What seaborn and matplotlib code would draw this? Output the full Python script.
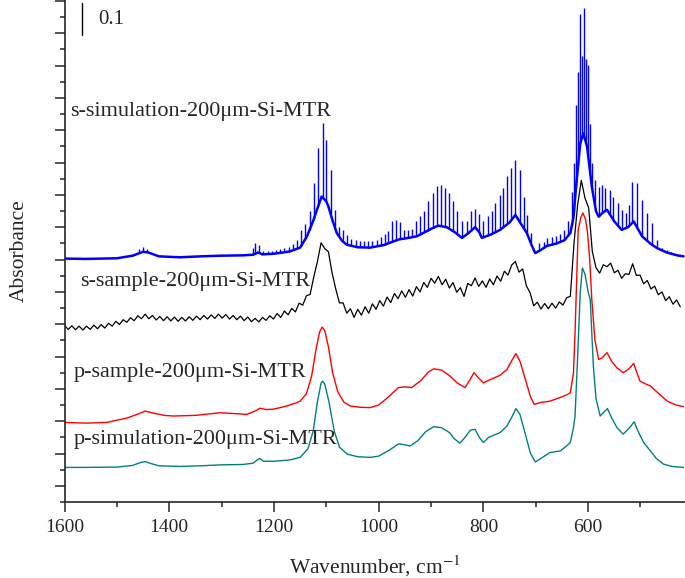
import matplotlib
matplotlib.use('Agg')
import matplotlib.pyplot as plt
import numpy as np
import pandas as pd
import seaborn as sns

# --- spectra (wavenumber cm-1, absorbance with offsets) ---

# p-simulation (teal)
teal_wn = [1600, 1560, 1500, 1470, 1455, 1446, 1437, 1420, 1380, 1340, 1300, 1260, 1240, 1232,
           1227, 1220, 1200, 1170, 1150, 1135, 1125, 1117, 1110, 1107, 1103, 1095, 1085, 1075,
           1060, 1040, 1016, 1000, 980, 962, 950, 940, 925, 910, 895, 880, 865, 855, 845, 835,
           825, 816, 808, 800, 790, 768, 755, 745, 738, 730, 720, 710, 701, 690, 673, 653, 640,
           634, 628, 625, 620, 615, 611, 606, 600, 596, 590, 585, 577, 570, 563, 555, 545, 533,
           522, 512, 505, 494, 481, 470, 456, 440, 418]
teal_abs = [.057, .057, .058, .063, .072, .075, .070, .062, .060, .062, .065, .066, .070, .080,
            .085, .076, .076, .080, .088, .115, .170, .260, .318, .324, .315, .260, .170, .120,
            .098, .090, .088, .092, .110, .130, .127, .123, .140, .168, .183, .180, .165, .145,
            .132, .150, .172, .175, .150, .134, .150, .165, .185, .215, .239, .220, .160, .100,
            .074, .085, .103, .108, .125, .134, .180, .216, .400, .600, .674, .655, .600, .576,
            .370, .270, .216, .228, .239, .210, .180, .160, .178, .198, .170, .134, .108, .085,
            .067, .060, .057]

# p-sample (red)
red_wn = [1600, 1558, 1520, 1480, 1460, 1446, 1430, 1410, 1392, 1350, 1303, 1280, 1252, 1235,
          1227, 1215, 1202, 1180, 1160, 1150, 1138, 1128, 1120, 1113, 1108, 1103, 1096, 1088,
          1078, 1066, 1054, 1035, 1016, 1000, 985, 962, 950, 937, 920, 905, 895, 880, 864, 850,
          835, 825, 818, 810, 800, 785, 768, 755, 745, 738, 730, 720, 710, 703, 690, 673, 654,
          640, 634, 628, 625, 619, 614, 610, 605, 601, 597, 593, 587, 580, 574, 564, 555, 545,
          533, 522, 513, 507, 501, 490, 481, 465, 449, 432, 418]
red_abs = [.196, .194, .196, .210, .222, .231, .225, .218, .216, .218, .226, .224, .221, .232,
           .240, .236, .237, .245, .255, .262, .285, .340, .420, .475, .491, .480, .430, .350,
           .290, .258, .247, .243, .242, .250, .270, .304, .306, .304, .325, .352, .362, .358,
           .340, .318, .304, .330, .350, .335, .319, .330, .342, .360, .390, .409, .385, .330,
           .275, .252, .258, .262, .273, .282, .288, .350, .474, .792, .830, .844, .825, .782,
           .700, .576, .450, .391, .395, .412, .385, .365, .350, .362, .379, .350, .324, .315,
           .309, .285, .262, .250, .245]

# s-sample (black), fringe zigzag vertices
black_wn = [1600, 1593, 1586, 1579, 1572, 1565, 1558, 1551, 1544, 1537, 1530, 1523, 1516, 1509,
            1502, 1495, 1488, 1481, 1474, 1467, 1460, 1453, 1446, 1439, 1432, 1425, 1418, 1411,
            1404, 1397, 1390, 1383, 1376, 1369, 1362, 1355, 1348, 1341, 1334, 1327, 1320, 1313,
            1306, 1299, 1292, 1285, 1278, 1271, 1264, 1257, 1250, 1243, 1236, 1229, 1222, 1215,
            1208, 1201, 1194, 1187, 1180, 1173, 1166, 1159, 1152, 1145, 1138, 1131, 1124, 1117,
            1110, 1103, 1096, 1089, 1082, 1075, 1068, 1061, 1054, 1047, 1040, 1033, 1026, 1019,
            1012, 1005, 998, 991, 984, 977, 970, 963, 956, 949, 942, 935, 928, 921, 914, 907,
            900, 893, 886, 879, 872, 865, 858, 851, 844, 837, 830, 823, 816, 809, 802, 795,
            788, 781, 774, 767, 760, 753, 746, 739, 732, 725, 718, 711, 704, 697, 690, 683,
            676, 669, 662, 655, 648, 641, 634, 627, 620, 613, 606, 599, 592, 585, 578, 571,
            564, 557, 550, 543, 536, 529, 522, 515, 508, 501, 494, 487, 480, 473, 466, 459,
            452, 445, 438, 431, 424]
black_abs = [.496, .484, .495, .483, .494, .482, .494, .484, .497, .486, .499, .488, .503, .494,
             .509, .499, .514, .506, .520, .511, .526, .517, .531, .517, .527, .513, .524, .511,
             .523, .510, .522, .509, .521, .510, .523, .512, .525, .514, .527, .516, .529, .518,
             .531, .519, .530, .516, .527, .514, .525, .511, .522, .508, .518, .507, .521, .512,
             .526, .516, .533, .521, .541, .529, .549, .538, .565, .559, .588, .592, .646, .694,
             .752, .734, .724, .659, .609, .566, .566, .534, .548, .521, .546, .528, .554, .534,
             .563, .546, .573, .556, .584, .567, .595, .579, .603, .583, .607, .587, .616, .600,
             .629, .614, .642, .627, .648, .622, .639, .612, .629, .599, .613, .586, .626, .619,
             .643, .617, .634, .614, .640, .622, .649, .633, .664, .652, .683, .694, .661, .671,
             .619, .598, .557, .568, .547, .564, .548, .565, .550, .569, .559, .582, .586, .750,
             .870, .945, .890, .860, .725, .675, .658, .684, .678, .689, .659, .667, .642, .656,
             .654, .687, .651, .652, .625, .635, .609, .618, .591, .600, .573, .585, .562, .575,
             .554]

# s-simulation (blue): smooth base + fringe spikes
blue_wn = [1600, 1560, 1500, 1470, 1450, 1440, 1420, 1380, 1340, 1300, 1260, 1240, 1230, 1222,
           1200, 1170, 1150, 1137, 1125, 1118, 1109, 1100, 1096, 1088, 1080, 1070, 1061, 1040,
           1016, 990, 962, 940, 927, 900, 886, 870, 855, 841, 830, 816, 808, 803, 785, 768,
           750, 739, 730, 717, 708, 701, 690, 679, 660, 645, 634, 628, 623, 615, 609, 602,
           593, 585, 580, 572, 564, 550, 536, 524, 513, 505, 497, 480, 469, 450, 430, 418]
blue_abs = [.703, .702, .704, .712, .724, .722, .710, .707, .710, .712, .713, .715, .722, .716,
            .718, .725, .737, .772, .820, .854, .895, .880, .864, .820, .782, .758, .746, .738,
            .737, .745, .762, .768, .772, .795, .805, .800, .785, .767, .780, .800, .785, .767,
            .778, .792, .815, .838, .815, .782, .745, .720, .730, .742, .750, .760, .782, .830,
            .926, 1.06, 1.09, 1.049, .926, .850, .833, .845, .854, .818, .792, .800, .818, .795,
            .772, .748, .736, .722, .713, .710]
spike_wn = [1458, 1450, 1442, 1240, 1236, 1228, 1220, 1212, 1204, 1196, 1188, 1180, 1172, 1164,
            1156, 1148, 1140, 1132, 1124, 1116, 1107, 1100, 1092, 1084, 1076, 1068, 1060, 1052,
            1044, 1036, 1028, 1020, 1012, 1004, 996, 988, 982, 975, 967, 959, 952, 944, 937,
            929, 921, 913, 906, 897, 889, 881, 873, 866, 858, 850, 841, 832, 824, 816, 808,
            800, 792, 784, 778, 769, 762, 755, 747, 739, 731, 723, 717, 710, 693, 685, 678,
            669, 662, 653, 646, 638, 631, 627, 623, 619, 615, 611, 608, 604, 600, 596, 592,
            587, 580, 573, 567, 559, 552, 543, 536, 527, 521, 516, 506, 497, 488, 478, 469,
            459, 450, 442]
spike_abs = [.733, .738, .732, .735, .752, .745, .728, .726, .728, .730, .733, .736, .740, .748,
             .762, .790, .810, .850, .936, 1.044, 1.121, 1.07, .977, .854, .802, .790, .775, .765,
             .760, .757, .756, .756, .758, .762, .770, .780, .787, .818, .821, .815, .790, .790,
             .795, .820, .834, .849, .880, .907, .928, .931, .921, .907, .880, .850, .820, .820,
             .850, .855, .840, .820, .834, .850, .876, .900, .921, .957, .983, 1.008, .977, .895,
             .838, .782, .751, .755, .767, .770, .772, .780, .790, .820, .910, 1.00, 1.178, 1.28,
             1.461, 1.33, 1.477, 1.32, 1.302, 1.12, 1.00, .946, .926, .930, .921, .916, .895,
             .875, .854, .844, .870, .941, .936, .885, .844, .813, .761, .736, .730, .722]

curve_labels = ['s-simulation-200\u03bcm-Si-MTR', 's-sample-200\u03bcm-Si-MTR',
                'p-sample-200\u03bcm-Si-MTR', 'p-simulation-200\u03bcm-Si-MTR']
label_x = [1589, 1570, 1583, 1583]
label_y = [1.157, 0.633, 0.350, 0.144]

sns.set_style('ticks')
plt.rcParams['font.family'] = ['Liberation Serif', 'DejaVu Serif']
plt.rcParams['mathtext.fontset'] = 'stix'

fig = plt.figure(figsize=(6.85, 5.78), dpi=100)
ax = fig.add_axes([0.0942, 0.1315, 0.9058, 0.8685])

sns.lineplot(x=teal_wn, y=teal_abs, color='#008080', lw=1.0, estimator=None, ax=ax)
sns.lineplot(x=red_wn, y=red_abs, color='#ff0000', lw=1.0, estimator=None, ax=ax)
sns.lineplot(x=black_wn, y=black_abs, color='black', lw=0.9, estimator=None, ax=ax)
sns.lineplot(x=blue_wn, y=blue_abs, color='#0000ff', lw=1.8, estimator=None, ax=ax)

# spikes rise from the blue base line
spike_base = np.interp(spike_wn, blue_wn[::-1], blue_abs[::-1])
ax.vlines(spike_wn, spike_base, spike_abs, color='#0000ff', lw=1.0)

for txt, lx, ly in zip(curve_labels, label_x, label_y):
    ax.text(lx, ly, txt, fontsize=16, va='center', ha='left')

# 0.1 scale bar
bar_x, bar_bottom, bar_len = 1566, 1.394, 0.1
ax.plot([bar_x, bar_x], [bar_bottom, bar_bottom + bar_len], color='black', lw=1.0)
ax.text(1536, bar_bottom + bar_len / 2, '0.1', fontsize=15, va='center', ha='left')

ax.set_xlim(1600, 415)
ax.set_ylim(-0.05, 1.503)
ax.set_xticks([1600, 1400, 1200, 1000, 800, 600])
ax.set_xticks([1500, 1300, 1100, 900, 700, 500], minor=True)
ax.set_yticks(np.arange(0, 1.55, 0.1))
ax.set_yticks(np.arange(-0.05, 1.5, 0.1), minor=True)
ax.set_yticklabels([])
ax.tick_params(axis='both', which='major', direction='out', length=7, width=1.1,
               labelsize=14, pad=5)
ax.tick_params(axis='both', which='minor', direction='out', length=3.5, width=1.1)
ax.set_xlabel('Wavenumber, cm$^{-1}$', fontsize=15.5, labelpad=13)
ax.set_ylabel('Absorbance', fontsize=15.5, labelpad=14)

sns.despine(ax=ax)
for s in ['left', 'bottom']:
    ax.spines[s].set_linewidth(1.2)

fig.savefig('out.png', dpi=100)
